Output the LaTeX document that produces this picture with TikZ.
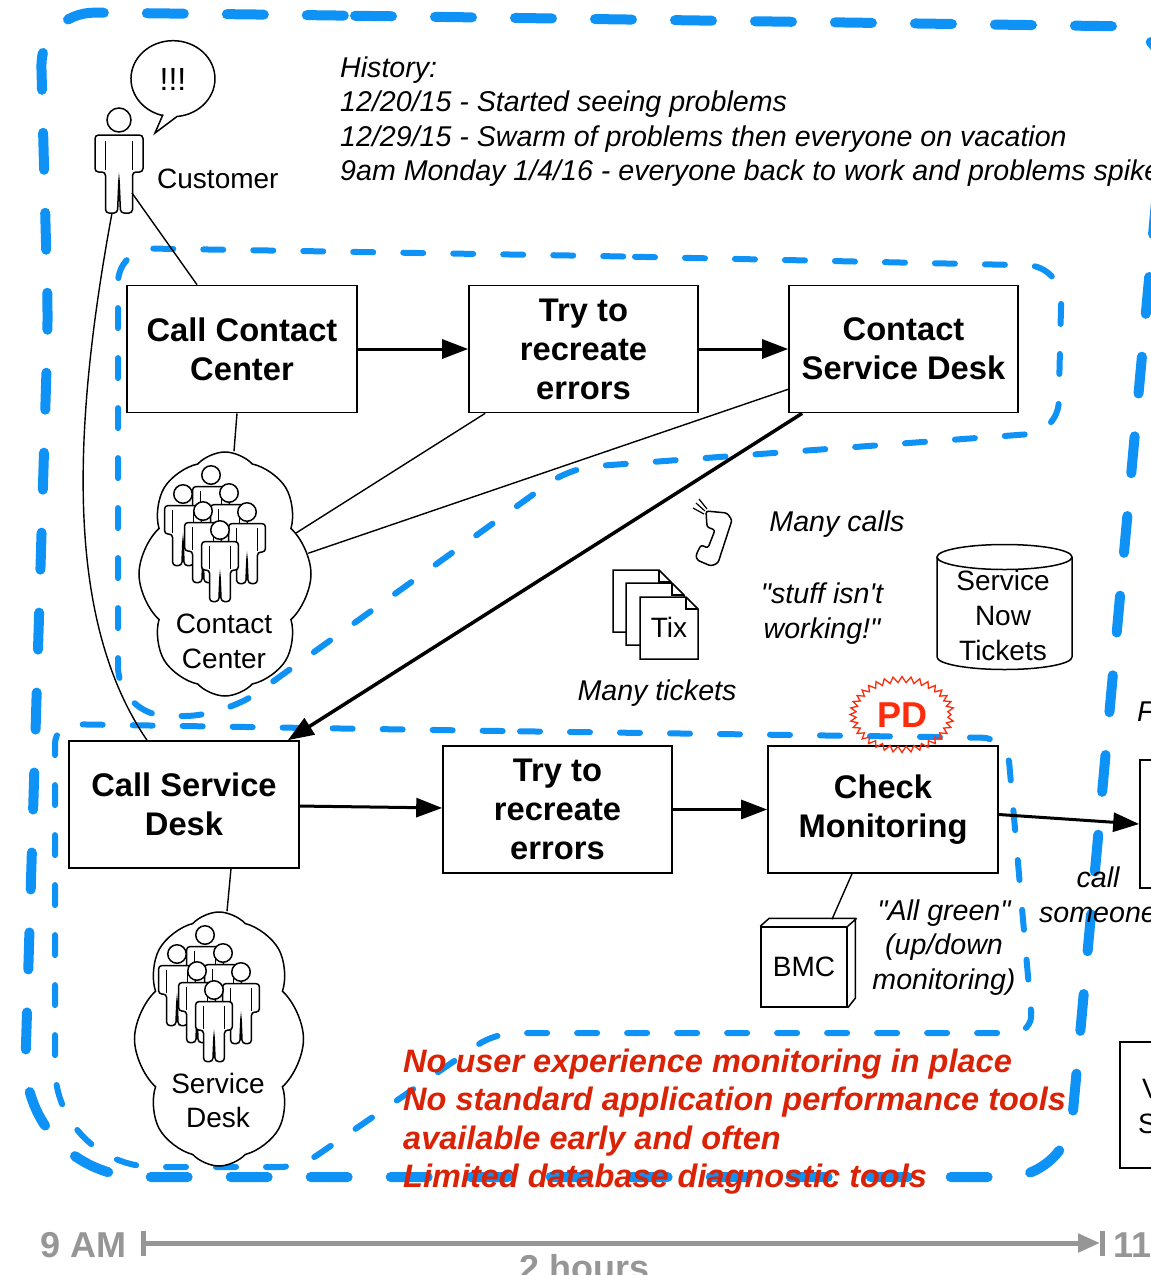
\documentclass[tikz,border=0pt]{standalone}
\usepackage{fontspec}
\setmainfont{Liberation Sans}
\usetikzlibrary{arrows.meta,shapes.symbols}

\definecolor{laneblue}{RGB}{14,146,245}
\definecolor{gapred}{RGB}{218,34,6}
\definecolor{pdred}{RGB}{252,44,12}
\definecolor{axisgray}{RGB}{150,150,150}

\tikzset{
  stepbox/.style={draw, line width=1.6pt, minimum width=230pt, minimum height=127pt,
    inner sep=0pt, align=center, font=\fontsize{32.7}{39}\selectfont\bfseries},
  txt/.style={inner sep=0pt, anchor=base, font=\fontsize{28}{34}\selectfont},
  ital/.style={inner sep=0pt, anchor=base, font=\fontsize{28.6}{34}\selectfont\itshape},
  gapline/.style={inner sep=0pt, anchor=base west, text=gapred,
    font=\fontsize{32.5}{38}\selectfont\bfseries\itshape},
  axislabel/.style={inner sep=0pt, anchor=base, text=axisgray,
    font=\fontsize{36}{40}\selectfont\bfseries},
  flow/.style={line width=3pt, -{Triangle[length=26pt,width=19pt]}},
  link/.style={line width=1.4pt},
  outerlane/.style={draw=laneblue, line width=10pt, line cap=round, dash pattern=on 37pt off 43pt},
  innerlane/.style={draw=laneblue, line width=6pt, line cap=round, dash pattern=on 20pt off 30pt},
  crowd/.style={cloud, draw, fill=white, line width=1.5pt, cloud puffs=8, cloud puff arc=95,
    cloud ignores aspect, inner sep=0pt},
  person/.pic={
    \draw[line width=1.5pt, fill=white, rounded corners=3.5pt]
      (-13.5,52) -- (-13.5,93) -- (-1.5,93) -- (0,58) -- (1.5,93) -- (13.5,93)
      -- (13.5,52) -- (24,52) -- (24,15) -- (-24,15) -- (-24,52) -- cycle;
    \draw[line width=1.5pt] (-13.5,21) -- (-13.5,50) (13.5,21) -- (13.5,50);
    \draw[line width=1.5pt, fill=white] (0,0) circle (12);
    \coordinate (-lleg) at (-7,93);
    \coordinate (-rleg) at (13,73);
  },
  group/.pic={
    \foreach \hx/\hy in {0/0, -28/19, 18/18, -8/36, 36/37, 9/55}
      {\pic[scale=0.77] at (\hx,\hy) {person};}
  },
}

\begin{document}
\begin{tikzpicture}[x=1pt, y=-1pt]
\useasboundingbox (0,0) rectangle (1151,1275);
\clip (0,0) rectangle (1151,1275);

% ---------- swim-lane outlines ----------
\draw[outerlane] (300,15) [rounded corners=60pt] -- (1172,27) -- (1067,1177)
  [rounded corners=120pt] -- (22,1177) [rounded corners=30pt] -- (48,320)
  [rounded corners=55pt] -- (40,12) -- cycle;
\draw[innerlane] (600,256) [rounded corners=35pt] -- (1062,266) [rounded corners=30pt] -- (1058,432)
  [rounded corners=25pt] -- (570,468) [rounded corners=40pt] -- (225,716)
  [rounded corners=50pt] -- (118,716) [rounded corners=35pt] -- (118,248) -- cycle;
\draw[innerlane] (500,731) [rounded corners=25pt] -- (1007,738) [rounded corners=20pt] -- (1033,1033)
  -- (495,1033) -- (300,1167) [rounded corners=100pt] -- (55,1167)
  [rounded corners=20pt] -- (55,724) -- cycle;

% ---------- customer ----------
\pic (cust) at (119,120) {person};
\draw[line width=1.5pt, fill=white] (163,114.5) -- (155,133) -- (177,116.5)
  arc[start angle=84.5, end angle=-255.7, x radius=42, y radius=38] -- cycle;
\node[txt, font=\fontsize{32}{38}\selectfont] (shout) at (173,90) {!!!};
\node[txt, anchor=base west] (custlabel) at (157,188) {Customer};

% ---------- history ----------
\node[ital, anchor=base west] (h0) at (340,77) {History:};
\node[ital, anchor=base west] (h1) at (340,111) {12/20/15 - Started seeing problems};
\node[ital, anchor=base west] (h2) at (340,146) {12/29/15 - Swarm of problems then everyone on vacation};
\node[ital, anchor=base west] (h3) at (340,180) {9am Monday 1/4/16 - everyone back to work and problems spike};

% ---------- first lane ----------
\node[stepbox] (cc) at (242,349) {Call Contact\\Center};
\node[stepbox, minimum width=229pt] (tr1) at (583.5,349) {Try to\\recreate\\errors};
\node[stepbox, minimum width=229pt] (csd) at (903.5,349) {Contact\\Service Desk};
\draw[flow] (cc) -- (tr1);
\draw[flow] (tr1) -- (csd);

\node[crowd, minimum width=172pt, minimum height=244pt] (ccloud) at (225,574) {};
\pic at (211,475) {group};
\node[txt] (cc1) at (224,633) {Contact};
\node[txt] (cc2) at (224,668) {Center};

\draw[link] (cust-rleg) -- ([xshift=-45pt]cc.north);
\draw[link] ([xshift=-5pt]cc.south) -- ([xshift=9pt]ccloud.north);
\draw[link] (ccloud.30) -- ([xshift=17pt]tr1.south west);
\draw[link] (ccloud.14) -- ([yshift=24pt]csd.south west);

% ---------- second lane ----------
\node[stepbox] (sdk) at (184,804.5) {Call Service\\Desk};
\node[stepbox, minimum width=229pt] (tr2) at (557.5,809.5) {Try to\\recreate\\errors};
\node[stepbox] (chk) at (883,809.5) {Check\\Monitoring};
\node[draw, line width=1.6pt, minimum width=120pt, minimum height=128pt] (nxt) at (1200,824) {};
\draw[flow] (sdk) -- (tr2);
\draw[flow] (tr2) -- (chk);
\draw[flow] ([yshift=-5pt]chk.east) -- (nxt.west);

\draw[line width=3.5pt, -{Triangle[length=26pt,width=19pt]}]
  ([xshift=14pt]csd.south west) -- ([xshift=-12pt]sdk.north east);
\draw[link] (cust-lleg) .. controls (72,430) and (65,620) .. ([xshift=-37pt]sdk.north);

\node[crowd, minimum width=169pt, minimum height=254pt] (sdcloud) at (219,1039) {};
\pic at (205,935) {group};
\node[txt] (sd1) at (218,1093) {Service};
\node[txt] (sd2) at (218,1127) {Desk};
\draw[link] ([xshift=47pt]sdk.south) -- ([xshift=8pt]sdcloud.north);

% ---------- calls and tickets ----------
\draw[line width=1.5pt, rounded corners=2.5pt] (706,511) -- (727,513) -- (732,520) -- (718,563)
  -- (711,566) -- (697,560) -- (696,555) -- (701,545) -- (708,548) -- (715,530) -- (707,527) -- cycle;
\draw[line width=1.2pt] (696,503) -- (705,511) (693,508) -- (704,514) (699,499) -- (707,509);
\node[ital] (calls) at (837,531) {Many calls};

\foreach \px/\py in {613/570, 626/583, 640/597} {
  \draw[line width=1.5pt, fill=white] (\px,\py) -- ++(46,0) -- ++(12,12) -- ++(0,50) -- ++(-58,0) -- cycle;
  \draw[line width=1.2pt] (\px+46,\py) -- ++(0,12) -- ++(12,0);
}
\node[txt] (tix) at (669,637) {Tix};
\node[ital] (tickets) at (657,700) {Many tickets};
\node[ital] (stuff1) at (822,603) {\textquotedbl stuff isn\textquotesingle t};
\node[ital] (stuff2) at (822,638) {working!\textquotedbl};

% ServiceNow ticket store
\draw[line width=1.5pt] (937,557) -- (937,657) arc[start angle=180, end angle=0, x radius=67.5, y radius=12.5] -- (1072,557);
\draw[line width=1.5pt] (1004.5,557) ellipse [x radius=67.5, y radius=12.5];
\node[txt] (sn1) at (1003,590) {Service};
\node[txt] (sn2) at (1003,625) {Now};
\node[txt] (sn3) at (1003,660) {Tickets};

% ---------- monitoring ----------
\draw[pdred, line width=1.3pt] (951,714.5)
  \foreach \i in {1,...,71} { -- ({902+(49+3*cos(\i*180))*cos(\i*5)}, {714.5+(35+3*cos(\i*180))*sin(\i*5)}) } -- cycle;
\node[inner sep=0pt, anchor=base, text=pdred, font=\fontsize{36}{40}\selectfont\bfseries] (pd) at (902,727) {PD};

\node[draw, line width=1.5pt, minimum width=86pt, minimum height=80pt, inner sep=0pt,
  font=\fontsize{28}{34}\selectfont] (bmc) at (804,967) {BMC};
\draw[line width=1.5pt] (bmc.north west) -- ++(9,-8) -- ++(86,0) -- ++(0,80) -- (bmc.south east)
  (bmc.north east) -- ++(9,-8);
\draw[link] ([xshift=-31pt]chk.south) -- ([xshift=28pt,yshift=7pt]bmc.north);

\node[ital] (ag1) at (944,920) {\textquotedbl All green\textquotedbl};
\node[ital] (ag2) at (944,954) {(up/down};
\node[ital] (ag3) at (944,989) {monitoring)};

\node[ital] (call1) at (1098,887) {call};
\node[ital] (call2) at (1098,922) {someone};
\node[ital, anchor=base west] (fnote) at (1137,721) {F};

\node[draw, line width=1.6pt, minimum width=120pt, minimum height=126pt] (vbox) at (1180,1105) {};
\node[txt, anchor=base west] (v1) at (1142,1098) {V};
\node[txt, anchor=base west] (v2) at (1138,1133) {S};

% ---------- gaps ----------
\node[gapline] (g1) at (403,1072) {No user experience monitoring in place};
\node[gapline] (g2) at (403,1110) {No standard application performance tools};
\node[gapline] (g3) at (403,1149) {available early and often};
\node[gapline] (g4) at (403,1187) {Limited database diagnostic tools};

% ---------- time axis ----------
\coordinate (t0) at (143,1243);
\coordinate (t1) at (1100,1243);
\draw[axisgray, line width=5pt, -{Triangle[length=22pt,width=18pt]}] (t0) -- (t1);
\draw[axisgray, line width=5pt] ([yshift=12pt]t0) -- ([yshift=-13pt]t0);
\draw[axisgray, line width=5pt] ([xshift=2pt,yshift=12pt]t1) -- ([xshift=2pt,yshift=-13pt]t1);
\node[axislabel, anchor=base west] (am9) at (40,1257) {9 AM};
\node[axislabel, anchor=base west] (am11) at (1113,1257) {11};
\node[axislabel] (span) at (585,1280) {2 hours};
\end{tikzpicture}
\end{document}
